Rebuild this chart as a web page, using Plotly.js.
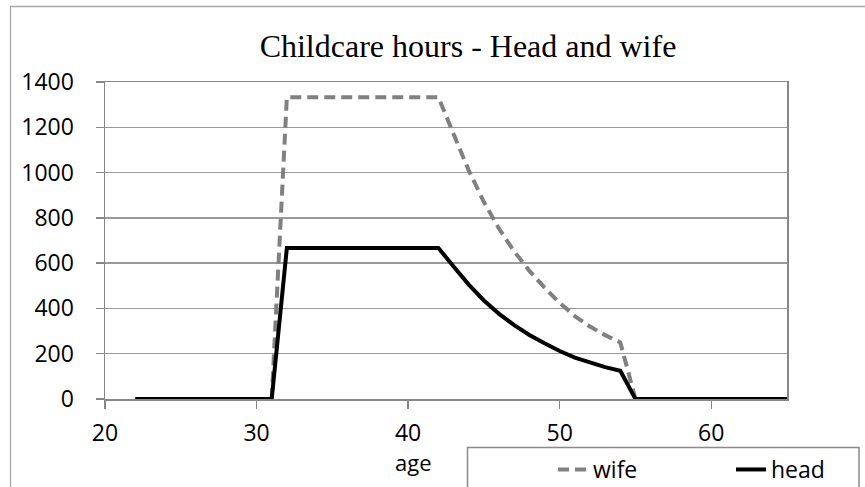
<!DOCTYPE html>
<html>
<head>
<meta charset="utf-8">
<script src="https://cdn.plot.ly/plotly-3.0.1.min.js"></script>
<style>
  html, body { margin: 0; padding: 0; background: #ffffff; }
  #chart { width: 865px; height: 487px; }
</style>
</head>
<body>
<div id="chart"></div>
<script>
// ---- data ----
const ages = [22,23,24,25,26,27,28,29,30,31,
              32,33,34,35,36,37,38,39,40,41,42,
              43,44,45,46,47,48,49,50,51,52,53,54,
              55,56,57,58,59,60,61,62,63,64,65];
const wifeHours = [0,0,0,0,0,0,0,0,0,0,
                   1333,1333,1333,1333,1333,1333,1333,1333,1333,1333,1333,
                   1170,1010,870,752,652,566,492,424,366,320,282,250,
                   0,0,0,0,0,0,0,0,0,0,0];
const headHours = [0,0,0,0,0,0,0,0,0,0,
                   667,667,667,667,667,667,667,667,667,667,667,
                   585,505,435,376,326,283,246,212,183,160,141,125,
                   0,0,0,0,0,0,0,0,0,0,0];
const seriesNames = ["wife", "head"];
const xTickVals = [20, 30, 40, 50, 60];
const yTickVals = [0, 200, 400, 600, 800, 1000, 1200, 1400];
const chartTitle = "Childcare hours - Head and wife";
const xAxisTitle = "age";

// ---- layout geometry (pixels) ----
const W = 865, H = 487;
const M = {l: 105, r: 78, t: 82, b: 88, autoexpand: false};
const PW = W - M.l - M.r, PH = H - M.t - M.b;
const px = x => (x - M.l) / PW;          // pixel -> paper x
const py = y => (H - M.b - y) / PH;      // pixel -> paper y

const tickFont = {family: "Open Sans, Noto Sans, sans-serif", size: 23, color: "#000000"};
const gridCol = "#9a9a9a";
const axisCol = "#878787";

const traces = [
  {
    x: ages, y: wifeHours, name: seriesNames[0], type: "scatter", mode: "lines",
    line: {color: "#808080", width: 4, dash: "11px,6px"}
  },
  {
    x: ages, y: headHours, name: seriesNames[1], type: "scatter", mode: "lines",
    line: {color: "#000000", width: 4}
  }
];

const layout = {
  width: W, height: H,
  margin: M,
  paper_bgcolor: "#ffffff",
  plot_bgcolor: "#ffffff",
  showlegend: true,
  title: {
    text: chartTitle,
    font: {family: "Liberation Serif, Times New Roman, serif", size: 32, color: "#000000"},
    x: 468 / W, xref: "container", xanchor: "center",
    y: 1 - 46 / H, yref: "container", yanchor: "middle"
  },
  xaxis: {
    range: [20, 65],
    tickmode: "array", tickvals: xTickVals,
    ticks: "outside", ticklen: 8, tickwidth: 1.3, tickcolor: axisCol,
    showline: true, linecolor: axisCol, linewidth: 1.5, mirror: true,
    showgrid: false, zeroline: false,
    tickfont: tickFont,
    ticklabelstandoff: 5,
    fixedrange: true
  },
  yaxis: {
    range: [0, 1400],
    tickmode: "array", tickvals: yTickVals,
    ticks: "outside", ticklen: 8, tickwidth: 1.3, tickcolor: axisCol,
    showline: true, linecolor: axisCol, linewidth: 1.5, mirror: true,
    showgrid: true, gridcolor: gridCol, gridwidth: 1.3,
    zeroline: false,
    tickfont: tickFont,
    ticklabelstandoff: 17,
    fixedrange: true
  },
  legend: {
    orientation: "h",
    x: px(553), xanchor: "left",
    y: py(448), yanchor: "top",
    font: tickFont,
    bgcolor: "rgba(0,0,0,0)",
    borderwidth: 0,
    entrywidth: 133, entrywidthmode: "pixels",
    itemclick: false, itemdoubleclick: false
  },
  annotations: [
    {
      text: xAxisTitle, xref: "paper", yref: "paper",
      x: px(413), y: py(462), xanchor: "center", yanchor: "middle",
      showarrow: false, font: {family: tickFont.family, size: 22, color: "#000000"}
    }
  ],
  shapes: [
    // outer chart border (left and top edges visible)
    {type: "rect", xref: "paper", yref: "paper",
     x0: px(10.5), x1: px(900), y0: py(6.5), y1: py(530),
     line: {color: "#a8a8a8", width: 1.3}, fillcolor: "rgba(0,0,0,0)", layer: "below"},
    // legend frame
    {type: "rect", xref: "paper", yref: "paper",
     x0: px(467.5), x1: px(859), y0: py(447.5), y1: py(510),
     line: {color: "#8a8a8a", width: 1.5}, fillcolor: "rgba(0,0,0,0)", layer: "below"}
  ]
};

Plotly.newPlot("chart", traces, layout, {staticPlot: true, displayModeBar: false});
</script>
</body>
</html>
